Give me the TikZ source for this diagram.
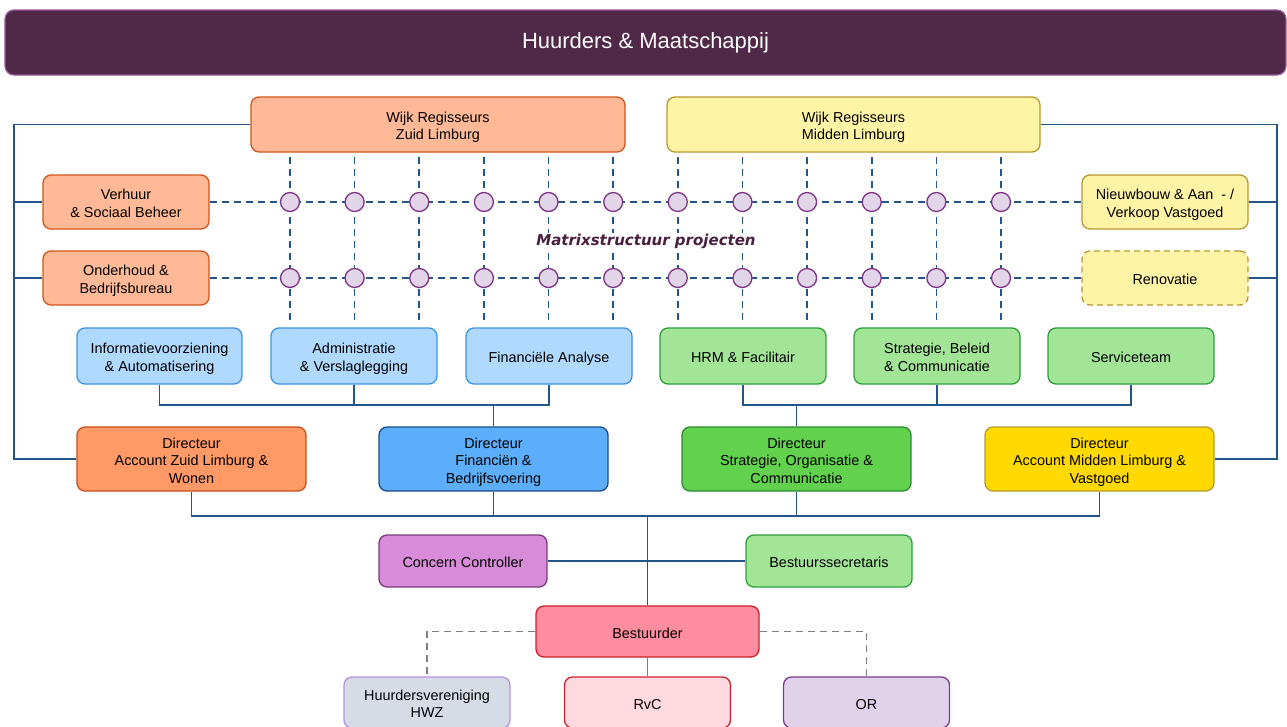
\documentclass[tikz,border=0pt]{standalone}
\usepackage{fontspec}
\setmainfont{Liberation Sans}
\newfontfamily\mxfont{DejaVu Sans}
\usetikzlibrary{calc}
\definecolor{lnblue}{HTML}{23558A}
\definecolor{titlefill}{HTML}{4F2947}
\definecolor{titledraw}{HTML}{9A5A98}
\definecolor{peachfill}{HTML}{FFB996}
\definecolor{peachdraw}{HTML}{D2541A}
\definecolor{yelfill}{HTML}{FFF4A6}
\definecolor{yeldraw}{HTML}{B8982E}
\definecolor{circfill}{HTML}{E1D5E7}
\definecolor{circdraw}{HTML}{7E3286}
\definecolor{ltbluefill}{HTML}{B0D9FF}
\definecolor{ltbluedraw}{HTML}{3D93E8}
\definecolor{ltgreenfill}{HTML}{A3E597}
\definecolor{ltgreendraw}{HTML}{2F9E3A}
\definecolor{orfill}{HTML}{FF9966}
\definecolor{ordraw}{HTML}{C8501A}
\definecolor{bfill}{HTML}{5CADFA}
\definecolor{bdraw}{HTML}{1A4D85}
\definecolor{gfill}{HTML}{62D24E}
\definecolor{gdraw}{HTML}{2D8A32}
\definecolor{goldfill}{HTML}{FFD900}
\definecolor{golddraw}{HTML}{B39B2E}
\definecolor{ccfill}{HTML}{D88BD8}
\definecolor{ccdraw}{HTML}{7A3A7A}
\definecolor{bstfill}{HTML}{FF8C9F}
\definecolor{bstdraw}{HTML}{CC1F2E}
\definecolor{hwzfill}{HTML}{D6DCE5}
\definecolor{hwzdraw}{HTML}{B493DB}
\definecolor{rvcfill}{HTML}{FFD9DF}
\definecolor{rvcdraw}{HTML}{CF2030}
\definecolor{orgfill}{HTML}{E1D2EC}
\definecolor{orgdraw}{HTML}{7B3B85}
\definecolor{mxtext}{HTML}{4A1F3F}
\newcommand\topstrut{\rule{0pt}{16.5pt}}
\newcommand\botstrut{\rule[-3.5pt]{0pt}{3.5pt}}
\tikzset{
  box/.style={draw, rounded corners=8pt, line width=1.3pt, align=center,
    font=\fontsize{14.4}{17.5}\selectfont, inner sep=1pt},
  smallbox/.style={box, minimum width=166pt, minimum height=55pt},
  dirbox/.style={box, minimum width=229pt, minimum height=64pt},
  conn/.style={draw=lnblue, line width=1.6pt},
  mdash/.style={draw=lnblue, line width=1.6pt, dash pattern=on 7pt off 5pt},
  mcirc/.style={circle, draw=circdraw, fill=circfill, line width=1.3pt, minimum size=19pt, inner sep=0pt},
  graydash/.style={draw=gray, line width=1.3pt, dash pattern=on 7pt off 5pt},
  graysolid/.style={draw=gray, line width=1.3pt}
}
\begin{document}
\begin{tikzpicture}[x=1pt,y=-1pt]
\useasboundingbox (0,0) rectangle (1287,726);

% title
\node[draw=titledraw, fill=titlefill, rounded corners=9pt, line width=1.2pt,
  minimum width=1281pt, minimum height=65pt, text=white,
  font=\fontsize{22}{26}\selectfont] (title) at (645.5,42.5) {\raisebox{-2pt}{Huurders \& Maatschappij}};

% top row
\node[box, fill=peachfill, draw=peachdraw, minimum width=374pt, minimum height=55pt] (wzl) at (438,124.5) {\topstrut Wijk Regisseurs\\Zuid Limburg\botstrut};
\node[box, fill=yelfill, draw=yeldraw, minimum width=373pt, minimum height=55pt] (wml) at (853.5,124.5) {\topstrut Wijk Regisseurs\\Midden Limburg\botstrut};

\node[smallbox, fill=peachfill, draw=peachdraw, minimum height=54pt] (ver) at (126,202) {\topstrut Verhuur\\\& Sociaal Beheer\botstrut};
\node[smallbox, fill=peachfill, draw=peachdraw, minimum height=54pt] (ond) at (126,278) {\topstrut Onderhoud \&\\Bedrijfsbureau\botstrut};
\node[smallbox, fill=yelfill, draw=yeldraw, minimum height=54pt] (nwb) at (1165,202) {\topstrut Nieuwbouw \& Aan~~- /\\Verkoop Vastgoed\botstrut};
\node[smallbox, fill=yelfill, draw=yeldraw, minimum height=54pt, dash pattern=on 6pt off 4pt] (ren) at (1165,278) {\topstrut Renovatie\botstrut};

% matrix
\foreach \i in {0,...,11}{
  \pgfmathsetmacro\xx{290+64.636*\i}
  \coordinate (vt\i) at (\xx,157);
  \coordinate (vb\i) at (\xx,322);
  \draw[mdash] (vt\i) -- (vb\i);
}
\draw[mdash] (ver.east) -- (nwb.west);
\draw[mdash] (ond.east) -- (ren.west);
\foreach \i in {0,...,11}{
  \node[mcirc] (ca\i) at (vt\i |- ver.east) {};
  \node[mcirc] (cb\i) at (vt\i |- ond.east) {};
}
\node[font=\mxfont\bfseries\itshape\fontsize{15}{18}\selectfont, text=mxtext, fill=white, inner sep=1pt] (mx) at (646,241) {Matrixstructuur projecten};

% department row
\node[smallbox, fill=ltbluefill, draw=ltbluedraw, minimum width=165pt, minimum height=56pt] (info) at (159.5,356) {\topstrut Informatievoorziening\\\& Automatisering\botstrut};
\node[smallbox, fill=ltbluefill, draw=ltbluedraw, minimum height=56pt] (adm) at (354,356) {\topstrut Administratie\\\& Verslaglegging\botstrut};
\node[smallbox, fill=ltbluefill, draw=ltbluedraw, minimum height=56pt] (fin) at (549,356) {\topstrut Financiële Analyse\botstrut};
\node[smallbox, fill=ltgreenfill, draw=ltgreendraw, minimum height=56pt] (hrm) at (743,356) {\topstrut HRM \& Facilitair\botstrut};
\node[smallbox, fill=ltgreenfill, draw=ltgreendraw, minimum height=56pt] (sbc) at (937,356) {\topstrut Strategie, Beleid\\\& Communicatie\botstrut};
\node[smallbox, fill=ltgreenfill, draw=ltgreendraw, minimum height=56pt] (srv) at (1131,356) {\topstrut Serviceteam\botstrut};

% directors
\node[dirbox, fill=orfill, draw=ordraw] (dzl) at (191.5,459) {\topstrut Directeur\\Account Zuid Limburg \&\\Wonen\botstrut};
\node[dirbox, fill=bfill, draw=bdraw] (dfb) at (493.5,459) {\topstrut Directeur\\Financiën \&\\Bedrijfsvoering\botstrut};
\node[dirbox, fill=gfill, draw=gdraw] (dsoc) at (796.5,459) {\topstrut Directeur\\Strategie, Organisatie \&\\Communicatie\botstrut};
\node[dirbox, fill=goldfill, draw=golddraw] (dml) at (1099.5,459) {\topstrut Directeur\\Account Midden Limburg \&\\Vastgoed\botstrut};

% staff
\node[box, fill=ccfill, draw=ccdraw, minimum width=168pt, minimum height=52pt] (cc) at (463,561) {\topstrut Concern Controller\botstrut};
\node[box, fill=ltgreenfill, draw=ltgreendraw, minimum width=166pt, minimum height=52pt] (bs) at (829,561) {\topstrut Bestuurssecretaris\botstrut};
\node[box, fill=bstfill, draw=bstdraw, minimum width=223pt, minimum height=51pt] (bst) at (647.5,631.5) {\topstrut Bestuurder\botstrut};

\node[box, fill=hwzfill, draw=hwzdraw, minimum width=166pt, minimum height=51pt] (hwz) at (427,702.5) {\topstrut Huurdersvereniging\\HWZ\botstrut};
\node[box, fill=rvcfill, draw=rvcdraw, minimum width=166pt, minimum height=51pt] (rvc) at (647.5,702.5) {\topstrut RvC\botstrut};
\node[box, fill=orgfill, draw=orgdraw, minimum width=166pt, minimum height=51pt] (org) at (866.5,702.5) {\topstrut OR\botstrut};

% side brackets
\coordinate (L) at (14,124.5);
\coordinate (R) at (1277,124.5);
\draw[conn] (wzl.west) -- (wzl.west -| L) |- (dzl.west);
\draw[conn] (ver.west) -- (ver.west -| L);
\draw[conn] (ond.west) -- (ond.west -| L);
\draw[conn] (wml.east) -- (wml.east -| R) |- (dml.east);
\draw[conn] (nwb.east) -- (nwb.east -| R);
\draw[conn] (ren.east) -- (ren.east -| R);

% department brackets
\coordinate (J1) at (493.5,405);
\coordinate (J2) at (796.5,405);
\draw[conn] (info.south) |- (J1) -| (fin.south);
\draw[conn] (adm.south) -- (adm.south |- J1);
\draw[conn] (J1) -- (dfb.north);
\draw[conn] (hrm.south) |- (J2) -| (srv.south);
\draw[conn] (sbc.south) -- (sbc.south |- J2);
\draw[conn] (J2) -- (dsoc.north);

% director bracket
\coordinate (B) at (647.5,516);
\draw[conn] (dzl.south) |- (B) -| (dml.south);
\draw[conn] (dfb.south) -- (dfb.south |- B);
\draw[conn] (dsoc.south) -- (dsoc.south |- B);
\draw[conn] (B) -- (bst.north);
\draw[conn] (cc.east) -- (bs.west);

% bottom
\draw[graydash] (bst.west) -| (hwz.north);
\draw[graydash] (bst.east) -| (org.north);
\draw[graysolid] (bst.south) -- (rvc.north);
\end{tikzpicture}
\end{document}
